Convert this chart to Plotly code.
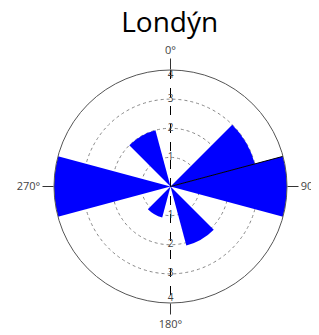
import plotly.graph_objects as go

title = "Londýn"
directions = [0, 30, 60, 90, 120, 150, 180, 210, 240, 270, 300, 330]
counts = [0, 0, 3.0, 4.0, 0, 2.1, 0, 1.1, 0, 4.0, 0, 2.0]
sector_width = 30
r_max = 4
radial_ticks = [1, 2, 3, 4]
angle_ticks = [0, 90, 180, 270]
angle_labels = ["0°", "90°", "180°", "270°"]

fig = go.Figure()

fig.add_trace(go.Barpolar(
    r=counts, theta=directions, width=[sector_width] * len(directions),
    marker=dict(color="#0000ff", line=dict(width=0)),
    showlegend=False, hoverinfo="skip",
))

# edge line of the east sector (left edge of bar at 90 deg)
edge_theta = directions[3] - sector_width / 2
fig.add_trace(go.Scatterpolar(
    r=[0, counts[3]], theta=[edge_theta, edge_theta], mode="lines",
    line=dict(color="black", width=1), showlegend=False, hoverinfo="skip",
))

# vertical dashed axis line
fig.add_trace(go.Scatterpolar(
    r=[r_max, 0, r_max], theta=[0, 0, 180], mode="lines",
    line=dict(color="black", width=1, dash="dash"), showlegend=False, hoverinfo="skip",
))

# radial tick labels on both sides
for th in (0, 180):
    pos = ["middle center"] * (len(radial_ticks) - 1) + (["bottom center"] if th == 0 else ["top center"])
    fig.add_trace(go.Scatterpolar(
        r=radial_ticks, theta=[th] * len(radial_ticks), mode="text",
        text=[str(v) for v in radial_ticks], textposition=pos,
        textfont=dict(size=10, color="#444", family="Open Sans"),
        showlegend=False, hoverinfo="skip",
    ))

# page body has an 8px margin, so the figure is sized to fit the 319x335 window
fig.update_layout(
    width=311, height=327,
    margin=dict(l=46, r=32, t=62, b=32),
    paper_bgcolor="white",
    title=dict(text=title, x=0.52, xanchor="center", y=0.988, yanchor="top",
               font=dict(size=28, color="black", family="Open Sans")),
    polar=dict(
        bgcolor="white",
        domain=dict(x=[0, 1], y=[0, 1]),
        angularaxis=dict(
            rotation=90, direction="clockwise",
            tickmode="array", tickvals=angle_ticks, ticktext=angle_labels,
            ticks="outside", ticklen=11, tickcolor="#333",
            showgrid=False, showline=True, linecolor="#555", linewidth=1,
            tickfont=dict(size=11, color="#444", family="Open Sans"),
        ),
        radialaxis=dict(
            range=[0, r_max], tickvals=radial_ticks, showticklabels=False,
            ticks="", showline=False,
            showgrid=True, gridcolor="#888", griddash="dot", gridwidth=1,
        ),
    ),
)

fig.write_html("out.html")
